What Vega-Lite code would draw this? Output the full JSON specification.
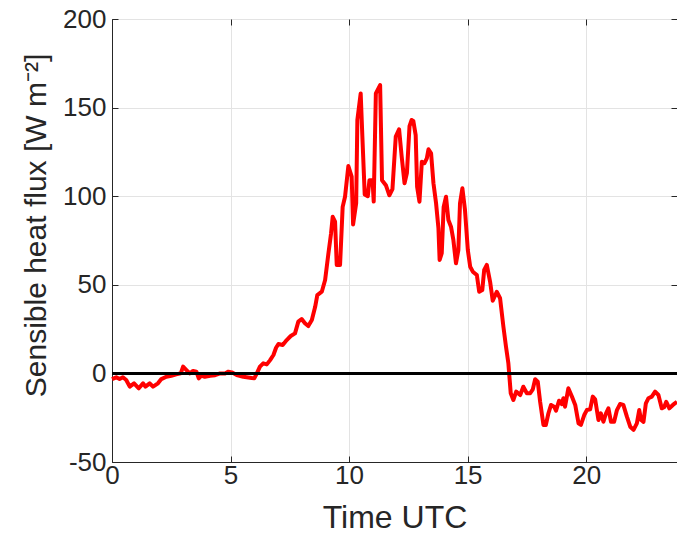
{
  "$schema": "https://vega.github.io/schema/vega-lite/v6.json",
  "width": 565,
  "height": 443,
  "autosize": {"type": "none"},
  "padding": {"left": 112, "top": 19, "right": 0, "bottom": 77},
  "background": "white",
  "config": {
    "view": {"stroke": "#262626", "strokeWidth": 1},
    "font": "Liberation Sans",
    "axis": {
      "labelFont": "Liberation Sans",
      "titleFont": "Liberation Sans",
      "labelColor": "#262626",
      "titleColor": "#262626",
      "domainColor": "#262626",
      "tickColor": "#262626",
      "labelFontSize": 26,
      "titleFontSize": 31,
      "titleFontWeight": "normal",
      "gridColor": "#e3e3e3",
      "gridWidth": 1,
      "labelFlush": false,
      "labelOverlap": false
    }
  },
  "data": {
    "values": [
      {"t": 0.00, "h": -3.2}, {"t": 0.18, "h": -2.2}, {"t": 0.32, "h": -3.2}, {"t": 0.46, "h": -2.2},
      {"t": 0.60, "h": -3.7}, {"t": 0.75, "h": -7.5}, {"t": 0.93, "h": -5.6}, {"t": 1.13, "h": -8.4},
      {"t": 1.31, "h": -5.6}, {"t": 1.41, "h": -7.5}, {"t": 1.59, "h": -5.6}, {"t": 1.73, "h": -7.5},
      {"t": 1.94, "h": -5.6}, {"t": 2.08, "h": -3.2}, {"t": 2.29, "h": -1.9}, {"t": 2.50, "h": -1.3},
      {"t": 2.71, "h": -0.5}, {"t": 2.90, "h": 0}, {"t": 3.00, "h": 3.8}, {"t": 3.14, "h": 1.9},
      {"t": 3.28, "h": 0}, {"t": 3.42, "h": 1.4}, {"t": 3.56, "h": 1.0}, {"t": 3.66, "h": -2.8},
      {"t": 3.77, "h": -1.3}, {"t": 3.91, "h": -1.9}, {"t": 4.14, "h": -1.3}, {"t": 4.35, "h": -1.0},
      {"t": 4.56, "h": 0}, {"t": 4.77, "h": 0}, {"t": 4.91, "h": 1.0}, {"t": 5.05, "h": 0.6},
      {"t": 5.26, "h": -0.9}, {"t": 5.54, "h": -1.9}, {"t": 5.82, "h": -2.4}, {"t": 6.00, "h": -2.8},
      {"t": 6.11, "h": 0}, {"t": 6.24, "h": 3.8}, {"t": 6.38, "h": 5.7}, {"t": 6.53, "h": 5.1},
      {"t": 6.67, "h": 7.5}, {"t": 6.81, "h": 10.4}, {"t": 6.92, "h": 14.5}, {"t": 7.02, "h": 16.6},
      {"t": 7.20, "h": 16.0}, {"t": 7.37, "h": 18.8}, {"t": 7.54, "h": 21.1}, {"t": 7.72, "h": 22.6},
      {"t": 7.86, "h": 29.2}, {"t": 8.00, "h": 30.7}, {"t": 8.14, "h": 28.3}, {"t": 8.28, "h": 26.7},
      {"t": 8.43, "h": 30.1}, {"t": 8.57, "h": 37.6}, {"t": 8.66, "h": 44.2}, {"t": 8.85, "h": 46.1},
      {"t": 8.99, "h": 52.7}, {"t": 9.13, "h": 67.8}, {"t": 9.24, "h": 79}, {"t": 9.31, "h": 88.4},
      {"t": 9.41, "h": 85.6}, {"t": 9.48, "h": 61.2}, {"t": 9.62, "h": 61.2}, {"t": 9.73, "h": 94},
      {"t": 9.83, "h": 99.7}, {"t": 9.97, "h": 117}, {"t": 10.11, "h": 111}, {"t": 10.17, "h": 84},
      {"t": 10.30, "h": 96}, {"t": 10.35, "h": 143}, {"t": 10.49, "h": 158}, {"t": 10.56, "h": 134},
      {"t": 10.66, "h": 101}, {"t": 10.79, "h": 100}, {"t": 10.86, "h": 109}, {"t": 10.99, "h": 109},
      {"t": 11.04, "h": 97}, {"t": 11.13, "h": 158}, {"t": 11.31, "h": 162.7}, {"t": 11.39, "h": 109},
      {"t": 11.56, "h": 106}, {"t": 11.70, "h": 100.5}, {"t": 11.83, "h": 104}, {"t": 11.97, "h": 133.6},
      {"t": 12.11, "h": 137.8}, {"t": 12.22, "h": 122.3}, {"t": 12.34, "h": 107.3}, {"t": 12.44, "h": 113},
      {"t": 12.55, "h": 139.5}, {"t": 12.64, "h": 143}, {"t": 12.71, "h": 142.5}, {"t": 12.81, "h": 134.5},
      {"t": 12.87, "h": 105.4}, {"t": 12.97, "h": 96.9}, {"t": 13.07, "h": 119.5}, {"t": 13.18, "h": 118.6},
      {"t": 13.28, "h": 121.4}, {"t": 13.35, "h": 126.5}, {"t": 13.46, "h": 124.2}, {"t": 13.56, "h": 107.3},
      {"t": 13.67, "h": 96}, {"t": 13.77, "h": 82}, {"t": 13.82, "h": 64}, {"t": 13.91, "h": 67.8},
      {"t": 13.99, "h": 94}, {"t": 14.09, "h": 99.7}, {"t": 14.19, "h": 86.6}, {"t": 14.30, "h": 82.8},
      {"t": 14.40, "h": 75.3}, {"t": 14.51, "h": 62.1}, {"t": 14.61, "h": 69.6}, {"t": 14.68, "h": 96},
      {"t": 14.78, "h": 104.5}, {"t": 14.89, "h": 92.2}, {"t": 15.01, "h": 69.6}, {"t": 15.11, "h": 60.2},
      {"t": 15.22, "h": 57.4}, {"t": 15.39, "h": 55.5}, {"t": 15.49, "h": 46.1}, {"t": 15.62, "h": 47.1},
      {"t": 15.70, "h": 58.4}, {"t": 15.81, "h": 61.2}, {"t": 15.95, "h": 51.7}, {"t": 16.06, "h": 41},
      {"t": 16.23, "h": 46.1}, {"t": 16.37, "h": 42.4}, {"t": 16.51, "h": 26.4}, {"t": 16.62, "h": 15.1},
      {"t": 16.72, "h": 5.7}, {"t": 16.82, "h": -11.2}, {"t": 16.93, "h": -15}, {"t": 17.05, "h": -10.3},
      {"t": 17.22, "h": -12.2}, {"t": 17.35, "h": -7.5}, {"t": 17.50, "h": -11.2}, {"t": 17.64, "h": -11.2},
      {"t": 17.75, "h": -9}, {"t": 17.85, "h": -3.3}, {"t": 17.96, "h": -4.7}, {"t": 18.06, "h": -16},
      {"t": 18.20, "h": -29.1}, {"t": 18.30, "h": -29.1}, {"t": 18.41, "h": -22.5}, {"t": 18.52, "h": -17.8},
      {"t": 18.65, "h": -18.8}, {"t": 18.73, "h": -21}, {"t": 18.86, "h": -15.4}, {"t": 18.97, "h": -17.3},
      {"t": 19.04, "h": -14}, {"t": 19.11, "h": -18.8}, {"t": 19.25, "h": -8.4}, {"t": 19.40, "h": -13.1},
      {"t": 19.54, "h": -17.8}, {"t": 19.68, "h": -28.2}, {"t": 19.78, "h": -29.1}, {"t": 19.92, "h": -23.5},
      {"t": 20.03, "h": -20.7}, {"t": 20.17, "h": -20.3}, {"t": 20.28, "h": -13.1}, {"t": 20.38, "h": -14.6},
      {"t": 20.52, "h": -26.3}, {"t": 20.62, "h": -22.5}, {"t": 20.73, "h": -27.3}, {"t": 20.84, "h": -22.5},
      {"t": 20.94, "h": -19.7}, {"t": 21.05, "h": -27.3}, {"t": 21.18, "h": -27.3}, {"t": 21.30, "h": -20.7},
      {"t": 21.43, "h": -17.3}, {"t": 21.57, "h": -17.8}, {"t": 21.72, "h": -24.4}, {"t": 21.86, "h": -30.1},
      {"t": 22.00, "h": -31.9}, {"t": 22.14, "h": -28.2}, {"t": 22.24, "h": -20.7}, {"t": 22.32, "h": -26.3},
      {"t": 22.42, "h": -27.3}, {"t": 22.52, "h": -16.9}, {"t": 22.63, "h": -14}, {"t": 22.77, "h": -13.1},
      {"t": 22.91, "h": -10.3}, {"t": 23.05, "h": -12.2}, {"t": 23.19, "h": -19.7}, {"t": 23.29, "h": -19.1},
      {"t": 23.38, "h": -16}, {"t": 23.51, "h": -19.7}, {"t": 23.66, "h": -17.8}, {"t": 23.83, "h": -16}
    ]
  },
  "layer": [
    {
      "mark": {"type": "line", "color": "#ff0000", "strokeWidth": 4, "strokeJoin": "round"},
      "encoding": {
        "x": {
          "field": "t", "type": "quantitative",
          "scale": {"domain": [0, 23.8333], "nice": false, "zero": false},
          "axis": {"title": "Time UTC", "titleFontSize": 32, "values": [0, 5, 10, 15, 20], "grid": true, "tickSize": -6, "labelPadding": 6, "titlePadding": 14, "domainWidth": 1}
        },
        "y": {
          "field": "h", "type": "quantitative",
          "scale": {"domain": [-50, 200], "nice": false},
          "axis": {"title": "Sensible heat flux [W m⁻²]", "titleFontSize": 30, "titleY": 206, "values": [-50, 0, 50, 100, 150, 200], "grid": true, "tickSize": -6, "labelPadding": 12, "titlePadding": 11, "domainWidth": 1, "labelExpr": "datum.value < 0 ? '-' + toString(-datum.value) : toString(datum.value)"}
        }
      }
    },
    {
      "mark": {"type": "rule", "color": "black", "strokeWidth": 2.4},
      "encoding": {"y": {"datum": 0, "axis": null}}
    },
    {
      "mark": {"type": "point", "opacity": 0},
      "encoding": {
        "x": {"field": "t", "type": "quantitative", "axis": {"orient": "top", "labels": false, "title": null, "grid": false, "domain": false, "values": [0, 5, 10, 15, 20], "tickSize": -6}},
        "y": {"field": "h", "type": "quantitative", "axis": {"orient": "right", "labels": false, "title": null, "grid": false, "domain": false, "values": [-50, 0, 50, 100, 150, 200], "tickSize": -6}}
      }
    }
  ],
  "resolve": {"axis": {"x": "independent", "y": "independent"}}
}
